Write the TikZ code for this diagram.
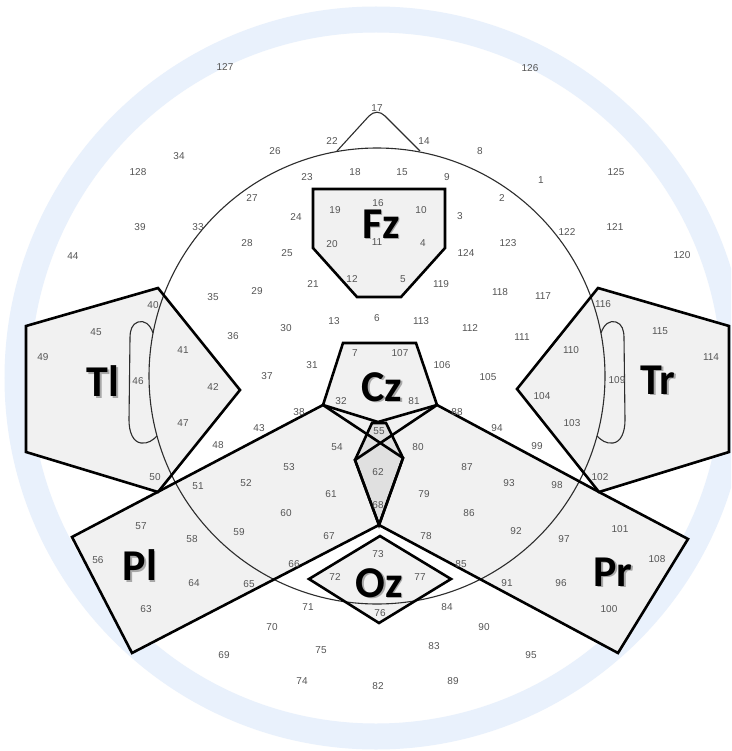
\documentclass[tikz,border=0pt]{standalone}
\usepackage{fontspec}
\setmainfont{Liberation Sans}
\newfontfamily\regionfont{Carlito}
\definecolor{ringblue}{RGB}{233,241,252}
\definecolor{numgray}{RGB}{85,85,85}
\definecolor{regionfill}{RGB}{241,241,241}
\definecolor{overlapfill}{RGB}{224,224,224}
\definecolor{headline}{RGB}{45,45,45}

% region outlines (pixel coordinates, y downwards)
\def\tlpath{(26,326) -- (158,288) -- (240,390) -- (158,492) -- (26,452) -- cycle}
\def\trpath{(598,288) -- (729,326) -- (729,452) -- (599,492) -- (517,389) -- cycle}
\def\plpath{(72,537) -- (323,405) -- (403,458) -- (379,525) -- (132,653) -- cycle}
\def\prpath{(437,405) -- (599,492) -- (688,539) -- (618,653) -- (379,525) -- (355,460) -- cycle}
\def\czpath{(343,343) -- (416,343) -- (437,405) -- (378,422) -- (323,405) -- cycle}
\def\fzpath{(313,189) -- (445,189) -- (445,248) -- (401,297) -- (357,297) -- (313,248) -- cycle}
\def\ozpath{(309,579) -- (380,536) -- (451,579) -- (379,623) -- cycle}
\def\midpath{(372,423) -- (386,423) -- (403,458) -- (379,525) -- (355,460) -- cycle}

\begin{document}
\begin{tikzpicture}[x=1pt,y=-1pt,
  num/.style={font=\fontsize{10}{10}\selectfont, text=numgray, inner sep=0pt},
  regionedge/.style={draw=black, line width=2.6pt, line join=miter},
  headedge/.style={draw=headline, line width=1.1pt},
  tag/.style={font=\regionfont\bfseries\fontsize{44}{44}\selectfont, inner sep=0pt},
  tagshadow/.style={tag, text=black, opacity=0.3}
]
\useasboundingbox (0,0) rectangle (731,751);
\clip (0,0) rectangle (731,751);
\fill[white] (0,0) rectangle (731,751);

% light blue ring around the head
\draw[ringblue, line width=26pt] (376,378) circle[radius=358.5];

% region fills
\fill[regionfill] \tlpath;
\fill[regionfill] \trpath;
\fill[regionfill] \plpath;
\fill[regionfill] \prpath;
\fill[regionfill] (323,405) -- (437,405) -- (380,443) -- cycle;
\fill[regionfill] \czpath;
\fill[overlapfill] \midpath;
\fill[regionfill] \fzpath;
\fill[regionfill] \ozpath;

% head, nose and ears
\draw[headedge] (377,376) circle[radius=228];
\draw[headedge, line join=round] (337,151) -- (369,116)
  .. controls (374,111) and (380,111) .. (385,116) -- (420,151);
\draw[headedge] (153,333) .. controls (150,324) and (144,320) .. (138,322)
  .. controls (132,324) and (130,330) .. (130,338) -- (129,420)
  .. controls (129,432) and (133,442) .. (141,443)
  .. controls (148,444) and (153,440) .. (157,436);
\draw[headedge] (601,333) .. controls (604,324) and (610,320) .. (616,322)
  .. controls (622,324) and (624,330) .. (624,338) -- (625,420)
  .. controls (625,432) and (621,442) .. (613,443)
  .. controls (606,444) and (601,440) .. (597,436);

% region borders
\draw[regionedge] \tlpath;
\draw[regionedge] \trpath;
\draw[regionedge] \plpath;
\draw[regionedge] \prpath;
\draw[regionedge] \czpath;
\draw[regionedge] \midpath;
\draw[regionedge] \fzpath;
\draw[regionedge] \ozpath;

% electrode numbers
\foreach \n/\x/\y in {
  1/541/180, 2/502/198, 3/460/216, 4/423/243, 5/403/279, 6/377/318,
  7/355/353, 8/480/151, 9/447/177, 10/421/210, 11/377/242, 12/352/279,
  13/334/321, 14/424/141, 15/402/172, 16/378/203, 17/377/108, 18/355/172,
  19/335/210, 20/332/244, 21/313/284, 22/332/141, 23/307/177, 24/296/217,
  25/287/253, 26/275/151, 27/252/198, 28/247/243, 29/257/291, 30/286/328,
  31/312/365, 32/341/401, 33/198/227, 34/179/156, 35/213/297, 36/233/336,
  37/267/376, 38/299/412, 39/140/227, 40/153/305, 41/183/350, 42/213/387,
  43/259/428, 44/73/256, 45/96/332, 46/138/381, 47/183/423, 48/218/445,
  49/43/357, 50/155/477, 51/198/486, 52/246/483, 53/289/467, 54/337/447,
  55/379/431, 56/98/560, 57/141/526, 58/192/539, 59/239/532, 60/286/513,
  61/331/494, 62/378/472, 63/146/609, 64/194/583, 65/249/584, 66/294/564,
  67/329/536, 68/378/505, 69/224/655, 70/272/627, 71/308/607, 72/335/577,
  73/378/554, 74/302/681, 75/321/650, 76/380/613, 77/420/577, 78/426/536,
  79/424/494, 80/418/447, 81/414/401, 82/378/686, 83/434/646, 84/447/607,
  85/461/564, 86/469/513, 87/467/467, 88/457/412, 89/453/681, 90/484/627,
  91/507/583, 92/516/531, 93/509/483, 94/497/428, 95/531/655, 96/561/583,
  97/564/539, 98/557/485, 99/537/446, 100/609/609, 101/620/529, 102/600/477,
  103/572/423, 104/542/396, 105/488/377, 106/442/365, 107/400/353, 108/657/559,
  109/617/380, 110/571/350, 111/522/337, 112/470/328, 113/421/321, 114/711/357,
  115/660/331, 116/603/304, 117/543/296, 118/500/292, 119/441/284, 120/682/255,
  121/615/227, 122/567/232, 123/508/243, 124/466/253, 125/616/172, 126/530/68,
  127/225/67, 128/138/172}
  \node[num] (e\n) at (\x,\y) {\n};

% region names
\foreach \n/\x/\y/\t in {fz/381/224/Fz, cz/382/387/Cz, tl/103/381/Tl,
  tr/658/380/Tr, pl/140/565/Pl, pr/613/572/Pr, oz/379/583/Oz} {
  \node[tagshadow] at (\x+1.6,\y+1.6) {\t};
  \node[tag] (\n) at (\x,\y) {\t};
}
\end{tikzpicture}
\end{document}
